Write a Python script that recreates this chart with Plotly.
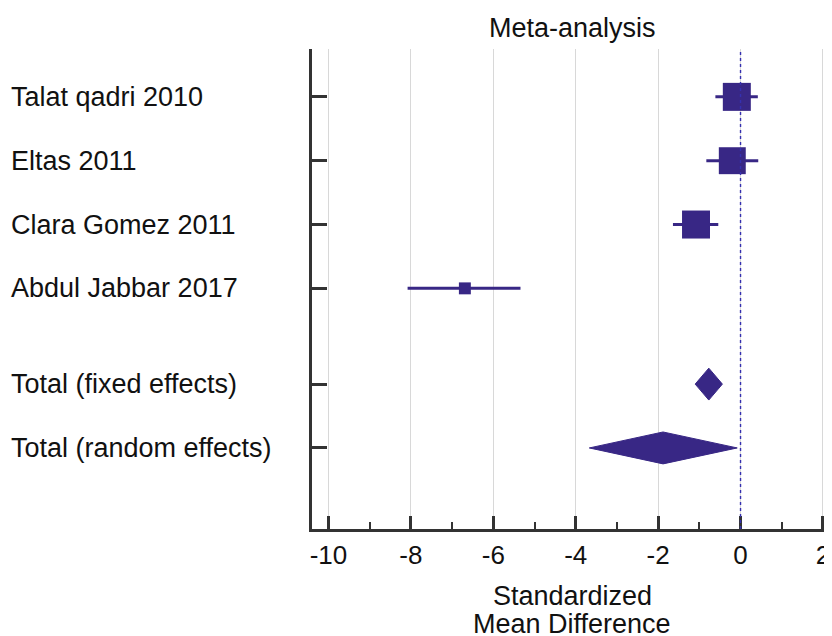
import plotly.graph_objects as go

# ---- data ----
studies = ["Talat qadri 2010", "Eltas 2011", "Clara Gomez 2011", "Abdul Jabbar 2017"]
smd = [-0.09, -0.20, -1.08, -6.69]
ci_low = [-0.61, -0.83, -1.64, -8.08]
ci_high = [0.42, 0.43, -0.54, -5.34]
weights = [32.4, 30.0, 32.4, 5.9]  # relative weights (box area)

pooled_labels = ["Total (fixed effects)", "Total (random effects)"]
pooled_est = [-0.77, -1.88]
pooled_low = [-1.10, -3.67]
pooled_high = [-0.44, -0.08]

null_value = 0
x_ticks = [-10, -8, -6, -4, -2, 0, 2]
x_title = ["Standardized", "Mean Difference"]

# ---- layout helpers (positions / styles) ----
study_pos = [1, 2, 3, 4]
pooled_pos = [5.5, 6.5]
color = "#382785"
FONT = "Liberation Sans, Arial, Helvetica, sans-serif"
size_k = 28 / (32.4 ** 0.5)
dh = 0.25

fig = go.Figure()

# confidence-interval lines (drawn below the boxes)
ci_x, ci_y = [], []
for lo, hi, yp in zip(ci_low, ci_high, study_pos):
    ci_x += [lo, hi, None]
    ci_y += [yp, yp, None]
fig.add_trace(go.Scatter(x=ci_x, y=ci_y, mode="lines",
                         line=dict(color=color, width=3),
                         hoverinfo="skip", showlegend=False))

fig.add_trace(go.Scatter(
    x=smd, y=study_pos, mode="markers",
    marker=dict(symbol="square", color=color, opacity=1,
                size=[size_k * w ** 0.5 for w in weights],
                line=dict(width=0)),
    hoverinfo="skip", showlegend=False))

for est, lo, hi, yp in zip(pooled_est, pooled_low, pooled_high, pooled_pos):
    fig.add_trace(go.Scatter(
        x=[lo, est, hi, est, lo], y=[yp, yp - dh, yp, yp + dh, yp],
        mode="lines", fill="toself", fillcolor=color,
        line=dict(color=color, width=1), hoverinfo="skip", showlegend=False))

fig.add_shape(type="line", xref="x", yref="paper", x0=null_value, x1=null_value,
              y0=0, y1=1, line=dict(color="#3530b0", width=1.4, dash="dot"))

all_labels = studies + pooled_labels
all_pos = study_pos + pooled_pos
for lab, yp in zip(all_labels, all_pos):
    fig.add_annotation(text=lab, xref="paper", x=-303 / 520, xanchor="left",
                       yref="y", y=yp, yanchor="middle", showarrow=False,
                       font=dict(size=27, color="#111", family=FONT))

fig.add_annotation(text="Meta-analysis", xref="paper", x=0.5, xanchor="center",
                   yref="paper", y=1, yanchor="bottom", yshift=4, showarrow=False,
                   font=dict(size=27, color="#111", family=FONT))

for i, t in enumerate(x_title):
    fig.add_annotation(text=t, xref="paper", x=0.5, xanchor="center",
                       yref="paper", y=0, yanchor="top", yshift=-50 - 28 * i,
                       showarrow=False, font=dict(size=27, color="#111", family=FONT))

fig.update_layout(
    width=824, height=628,
    margin=dict(l=304, r=0, t=41, b=107, autoexpand=False),
    paper_bgcolor="white", plot_bgcolor="white",
    font=dict(family=FONT, size=27, color="#111"),
    xaxis=dict(range=[-10.4, 2.22], tickvals=x_ticks, ticktext=[str(v) for v in x_ticks],
               automargin=False,
               showgrid=True, gridcolor="#d8d8d8", gridwidth=1, zeroline=False,
               showline=True, linecolor="#333", linewidth=3,
               ticks="inside", ticklen=13, tickwidth=2.5, tickcolor="#333",
               minor=dict(ticks="inside", ticklen=7, tickwidth=2, tickcolor="#333",
                          dtick=1, tick0=0, showgrid=False),
               tickfont=dict(size=26, family=FONT, color="#111"),
               ticklabelstandoff=1),
    yaxis=dict(range=[7.77, 0.25], tickvals=all_pos, showticklabels=False,
               automargin=False,
               showgrid=False, zeroline=False,
               showline=True, linecolor="#333", linewidth=3,
               ticks="inside", ticklen=15, tickwidth=2.5, tickcolor="#333"),
)

fig.write_html("out.html")
